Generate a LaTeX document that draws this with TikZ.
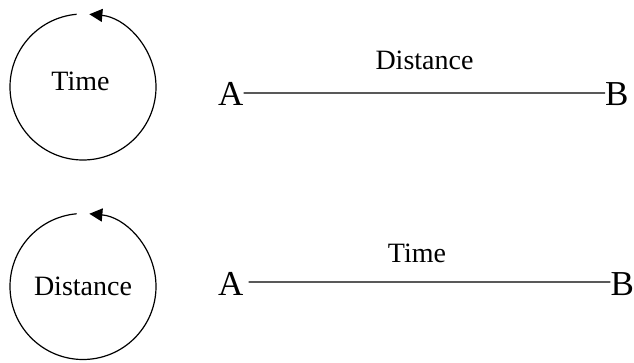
\documentclass[tikz,border=0pt]{standalone}
\usepackage{fontspec}
\setmainfont{Liberation Serif}
\usetikzlibrary{arrows.meta}
\tikzset{
  lbl/.style={inner sep=0pt, font=\fontsize{28}{30}\selectfont},
  pt/.style={inner sep=0pt, anchor=base west, font=\fontsize{35}{38}\selectfont},
  cyc/.style={line width=1.2pt, -{Triangle[length=13pt,width=13pt]}},
  seg/.style={line width=1.2pt}
}
\begin{document}
\begin{tikzpicture}[x=1pt,y=1pt]
\useasboundingbox (0,0) rectangle (634,362);
% top row
\coordinate (c1) at (83,275);
\draw[cyc] ([shift={(95:73)}]c1) arc[start angle=95, end angle=445, radius=73];
\node[lbl, anchor=base] (t1) at (80.5,271.3) {Time};
\node[pt] (A1) at (218,256) {A};
\node[pt] (B1) at (605,256) {B};
\draw[seg] ([yshift=1.5pt]A1.east) -- ([yshift=1.5pt]B1.west);
\node[lbl, anchor=base] (d1) at (424.5,292) {Distance};
% bottom row
\coordinate (c2) at (83,75.5);
\draw[cyc] ([shift={(95:73)}]c2) arc[start angle=95, end angle=445, radius=73];
\node[lbl, anchor=base] (d2) at (83,66.7) {Distance};
\node[pt] (A2) at (218,67) {A};
\node[pt] (B2) at (610.3,67) {B};
\draw[seg] ([xshift=5pt,yshift=1.5pt]A2.east) -- ([yshift=1.5pt]B2.west);
\node[lbl, anchor=base] (t2) at (417,99.7) {Time};
\end{tikzpicture}
\end{document}
